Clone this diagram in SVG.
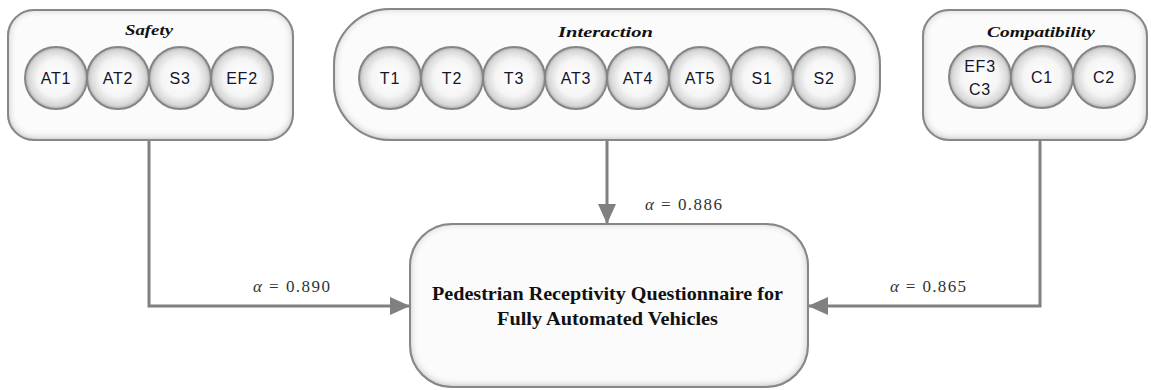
<svg xmlns="http://www.w3.org/2000/svg" width="1151" height="390" viewBox="0 0 1151 390">
  <style>
    .box { fill: #fbfbfb; stroke: #858585; stroke-width: 2; filter: url(#inset); }
    .item { fill: url(#ball); stroke: #858585; stroke-width: 2; }
    .code { font-family: "Liberation Sans", Arial, sans-serif; font-size: 16px; fill: #14142a; text-anchor: middle; letter-spacing: 0.8px; }
    .title { font-family: "Liberation Serif", "Times New Roman", serif; font-size: 15px; font-style: italic; font-weight: bold; fill: #111; }
    .main { font-family: "Liberation Serif", "Times New Roman", serif; font-size: 19px; font-weight: bold; fill: #111; }
    .alpha { font-family: "Liberation Serif", "Times New Roman", serif; font-size: 17px; fill: #333; }
    .alpha .sym { font-style: italic; }
    .link { fill: none; stroke: #808080; stroke-width: 3; }
  </style>
  <defs>
    <radialGradient id="ball" cx="50%" cy="50%" r="50%">
      <stop offset="0" stop-color="#ffffff"/>
      <stop offset="0.6" stop-color="#f5f5f5"/>
      <stop offset="0.88" stop-color="#d8d8d8"/>
      <stop offset="1" stop-color="#b0b0b0"/>
    </radialGradient>
    <filter id="inset" x="-5%" y="-5%" width="110%" height="115%">
      <feFlood flood-color="#8a8a8a" result="c"/>
      <feComposite in="c" in2="SourceAlpha" operator="out" result="outside"/>
      <feGaussianBlur in="outside" stdDeviation="4" result="blur"/>
      <feOffset in="blur" dx="0" dy="-1" result="off"/>
      <feComposite in="off" in2="SourceAlpha" operator="in" result="inner"/>
      <feMerge>
        <feMergeNode in="SourceGraphic"/>
        <feMergeNode in="inner"/>
      </feMerge>
    </filter>
    <marker id="head" viewBox="0 0 20 18" refX="20" refY="9" markerWidth="20" markerHeight="18" markerUnits="userSpaceOnUse" orient="auto">
      <path d="M0,0 L20,9 L0,18 Z" fill="#808080"/>
    </marker>
  </defs>

  <!-- connectors: each group feeds the questionnaire node -->
  <g id="connectors">
    <polyline class="link" points="149,140 149,306 410,306" marker-end="url(#head)"/>
    <line class="link" x1="607" y1="140" x2="607" y2="224" marker-end="url(#head)"/>
    <polyline class="link" points="1040,140 1040,306 808,306" marker-end="url(#head)"/>
    <text class="alpha" x="253" y="292" textLength="77" lengthAdjust="spacing"><tspan class="sym">α</tspan> = 0.890</text>
    <text class="alpha" x="645" y="210" textLength="77" lengthAdjust="spacing"><tspan class="sym">α</tspan> = 0.886</text>
    <text class="alpha" x="890" y="292" textLength="76" lengthAdjust="spacing"><tspan class="sym">α</tspan> = 0.865</text>
  </g>

  <!-- Safety group -->
  <g id="safety">
    <rect class="box" x="8" y="10" width="285" height="130" rx="26" ry="26"/>
    <text class="title" x="125" y="35" textLength="48" lengthAdjust="spacingAndGlyphs">Safety</text>
    <g id="safety-AT1"><circle class="item" cx="56" cy="78" r="31"/><text class="code" x="56" y="84">AT1</text></g>
    <g id="safety-AT2"><circle class="item" cx="118" cy="78" r="31"/><text class="code" x="118" y="84">AT2</text></g>
    <g id="safety-S3"><circle class="item" cx="180" cy="78" r="31"/><text class="code" x="180" y="84">S3</text></g>
    <g id="safety-EF2"><circle class="item" cx="242" cy="78" r="31"/><text class="code" x="242" y="84">EF2</text></g>
  </g>

  <!-- Interaction group -->
  <g id="interaction">
    <rect class="box" x="334" y="9" width="546" height="131" rx="56" ry="56"/>
    <text class="title" x="558" y="37" textLength="95" lengthAdjust="spacingAndGlyphs">Interaction</text>
    <g id="interaction-T1"><circle class="item" cx="390" cy="78" r="31"/><text class="code" x="390" y="84">T1</text></g>
    <g id="interaction-T2"><circle class="item" cx="452" cy="78" r="31"/><text class="code" x="452" y="84">T2</text></g>
    <g id="interaction-T3"><circle class="item" cx="514" cy="78" r="31"/><text class="code" x="514" y="84">T3</text></g>
    <g id="interaction-AT3"><circle class="item" cx="576" cy="78" r="31"/><text class="code" x="576" y="84">AT3</text></g>
    <g id="interaction-AT4"><circle class="item" cx="638" cy="78" r="31"/><text class="code" x="638" y="84">AT4</text></g>
    <g id="interaction-AT5"><circle class="item" cx="700" cy="78" r="31"/><text class="code" x="700" y="84">AT5</text></g>
    <g id="interaction-S1"><circle class="item" cx="762" cy="78" r="31"/><text class="code" x="762" y="84">S1</text></g>
    <g id="interaction-S2"><circle class="item" cx="824" cy="78" r="31"/><text class="code" x="824" y="84">S2</text></g>
  </g>

  <!-- Compatibility group -->
  <g id="compatibility">
    <rect class="box" x="923" y="10" width="224" height="130" rx="26" ry="26"/>
    <text class="title" x="987" y="37" textLength="108" lengthAdjust="spacingAndGlyphs">Compatibility</text>
    <g id="compatibility-EF3-C3"><circle class="item" cx="980" cy="77" r="31"/>
      <text class="code" x="980" y="72">EF3</text><text class="code" x="980" y="95">C3</text></g>
    <g id="compatibility-C1"><circle class="item" cx="1042" cy="77" r="31"/><text class="code" x="1042" y="83">C1</text></g>
    <g id="compatibility-C2"><circle class="item" cx="1104" cy="77" r="31"/><text class="code" x="1104" y="83">C2</text></g>
  </g>

  <!-- Questionnaire node -->
  <g id="questionnaire">
    <rect class="box" x="410" y="224" width="398" height="163" rx="42" ry="42"/>
    <text class="main" x="432" y="300" textLength="351" lengthAdjust="spacingAndGlyphs">Pedestrian Receptivity Questionnaire for</text>
    <text class="main" x="497" y="325" textLength="221" lengthAdjust="spacingAndGlyphs">Fully Automated Vehicles</text>
  </g>
</svg>
